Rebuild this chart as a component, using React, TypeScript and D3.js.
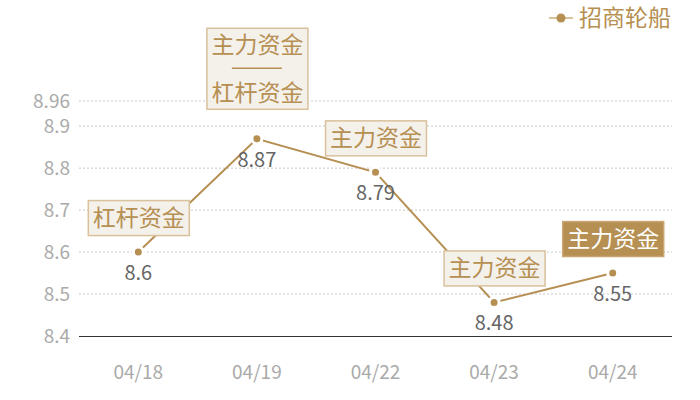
import * as d3 from "d3";
import React, {useEffect, useRef} from "react";

const dates = ["04/18", "04/19", "04/22", "04/23", "04/24"];
const prices = [8.6, 8.87, 8.79, 8.48, 8.55];
const notes = [["杠杆资金"], ["主力资金", "——", "杠杆资金"], ["主力资金"], ["主力资金"], ["主力资金"]];
const highlighted = [false, false, false, false, true];
const yTicks = [8.4, 8.5, 8.6, 8.7, 8.8, 8.9, 8.96];
const seriesName = "招商轮船";

const GOLD = '#b68f52';
const BOX_FILL = '#f4f0ea';
const BOX_STROKE = '#d9c19c';
const FONT = '"Noto Sans CJK SC", "Noto Sans", sans-serif';

const App: React.FC = () => {
  const ref = useRef<SVGSVGElement | null>(null);

  useEffect(() => {
    const svg = d3.select(ref.current);
    svg.selectAll('*').remove();
    const width = 700;
    const height = 400;
    const margin = { top: 101, right: 28, bottom: 64, left: 79 };

    const x = d3.scaleBand()
      .domain(dates)
      .range([margin.left, width - margin.right]);

    const y = d3.scaleLinear()
      .domain([8.4, 8.96])
      .range([height - margin.bottom, margin.top]);

    // grid lines
    svg.append('g')
      .selectAll('line')
      .data(yTicks.filter(t => t !== 8.4))
      .enter()
      .append('line')
      .attr('x1', margin.left)
      .attr('x2', width - margin.right)
      .attr('y1', d => y(d))
      .attr('y2', d => y(d))
      .attr('stroke', '#c8c8c8')
      .attr('stroke-dasharray', '2,2');

    // y tick labels
    svg.append('g')
      .selectAll('text')
      .data(yTicks)
      .enter()
      .append('text')
      .attr('x', 70)
      .attr('y', d => y(d))
      .attr('dy', '0.35em')
      .attr('text-anchor', 'end')
      .attr('fill', '#aaaaaa')
      .style('font-family', FONT)
      .style('font-size', '19px')
      .text(d => d);

    // x axis
    svg.append('line')
      .attr('x1', margin.left)
      .attr('x2', width - margin.right)
      .attr('y1', y(8.4) + 0.5)
      .attr('y2', y(8.4) + 0.5)
      .attr('stroke', '#333')
      .attr('stroke-width', 1);

    svg.append('g')
      .selectAll('text')
      .data(dates)
      .enter()
      .append('text')
      .attr('x', d => (x(d) || 0) + x.bandwidth() / 2)
      .attr('y', 372)
      .attr('dy', '0.35em')
      .attr('text-anchor', 'middle')
      .attr('fill', '#aaaaaa')
      .style('font-family', FONT)
      .style('font-size', '19px')
      .text(d => d);

    const cx = (i: number) => (x(dates[i]) || 0) + x.bandwidth() / 2;

    // line
    const line = d3.line<number>()
      .x((_, i) => cx(i))
      .y(d => y(d));

    svg.append('path')
      .datum(prices)
      .attr('d', line)
      .attr('fill', 'none')
      .attr('stroke', GOLD)
      .attr('stroke-width', 2);

    // points
    svg.append('g')
      .selectAll('circle')
      .data(prices)
      .enter()
      .append('circle')
      .attr('cx', (_, i) => cx(i))
      .attr('cy', d => y(d))
      .attr('r', 5)
      .attr('fill', GOLD)
      .attr('stroke', '#fff')
      .attr('stroke-width', 3);

    // value labels
    svg.append('g')
      .selectAll('text')
      .data(prices)
      .enter()
      .append('text')
      .attr('x', (_, i) => cx(i))
      .attr('y', d => y(d) + 21)
      .attr('dy', '0.35em')
      .attr('text-anchor', 'middle')
      .attr('fill', '#666')
      .style('font-family', FONT)
      .style('font-size', '20px')
      .text(d => d);

    // annotation boxes
    const lineH = 24;
    const boxW = 101;
    notes.forEach((lines, i) => {
      const boxH = lines.length * lineH + (lines.length > 1 ? 9 : 11);
      const gap = lines.length > 1 ? 30 : 17;
      const bottom = y(prices[i]) - gap;
      const top = bottom - boxH;
      const g = svg.append('g');
      g.append('rect')
        .attr('x', cx(i) - boxW / 2 + 0.5)
        .attr('y', top + 0.5)
        .attr('width', boxW)
        .attr('height', boxH)
        .attr('fill', highlighted[i] ? GOLD : BOX_FILL)
        .attr('stroke', highlighted[i] ? '#c9a674' : BOX_STROKE)
        .attr('stroke-width', 1.5);
      lines.forEach((t, j) => {
        const ty = top + boxH / 2 + (j - (lines.length - 1) / 2) * lineH;
        if (t === '——') {
          g.append('line')
            .attr('x1', cx(i) - 25)
            .attr('x2', cx(i) + 25)
            .attr('y1', ty)
            .attr('y2', ty)
            .attr('stroke', GOLD)
            .attr('stroke-width', 1.5);
        } else {
          g.append('text')
            .attr('x', cx(i) + 0.5)
            .attr('y', ty)
            .attr('dy', '0.36em')
            .attr('text-anchor', 'middle')
            .attr('fill', highlighted[i] ? '#fff' : GOLD)
            .style('font-family', FONT)
            .style('font-size', '23px')
            .text(t);
        }
      });
    });

    // legend
    const legend = svg.append('g').attr('transform', 'translate(549, 18)');
    legend.append('line')
      .attr('x1', 0)
      .attr('x2', 24)
      .attr('stroke', '#d9c19c')
      .attr('stroke-width', 2);
    legend.append('circle')
      .attr('cx', 12)
      .attr('r', 4.5)
      .attr('fill', GOLD);
    legend.append('text')
      .attr('x', 30)
      .attr('dy', '0.36em')
      .attr('fill', GOLD)
      .style('font-family', FONT)
      .style('font-size', '23px')
      .text(seriesName);

    return () => {
      svg.selectAll('*').remove();
    };
  }, []);

  return <svg ref={ref} width={700} height={400} style={{position: 'absolute', left: 0, top: 0, background: '#fff'}}/>;
};

export default App;
